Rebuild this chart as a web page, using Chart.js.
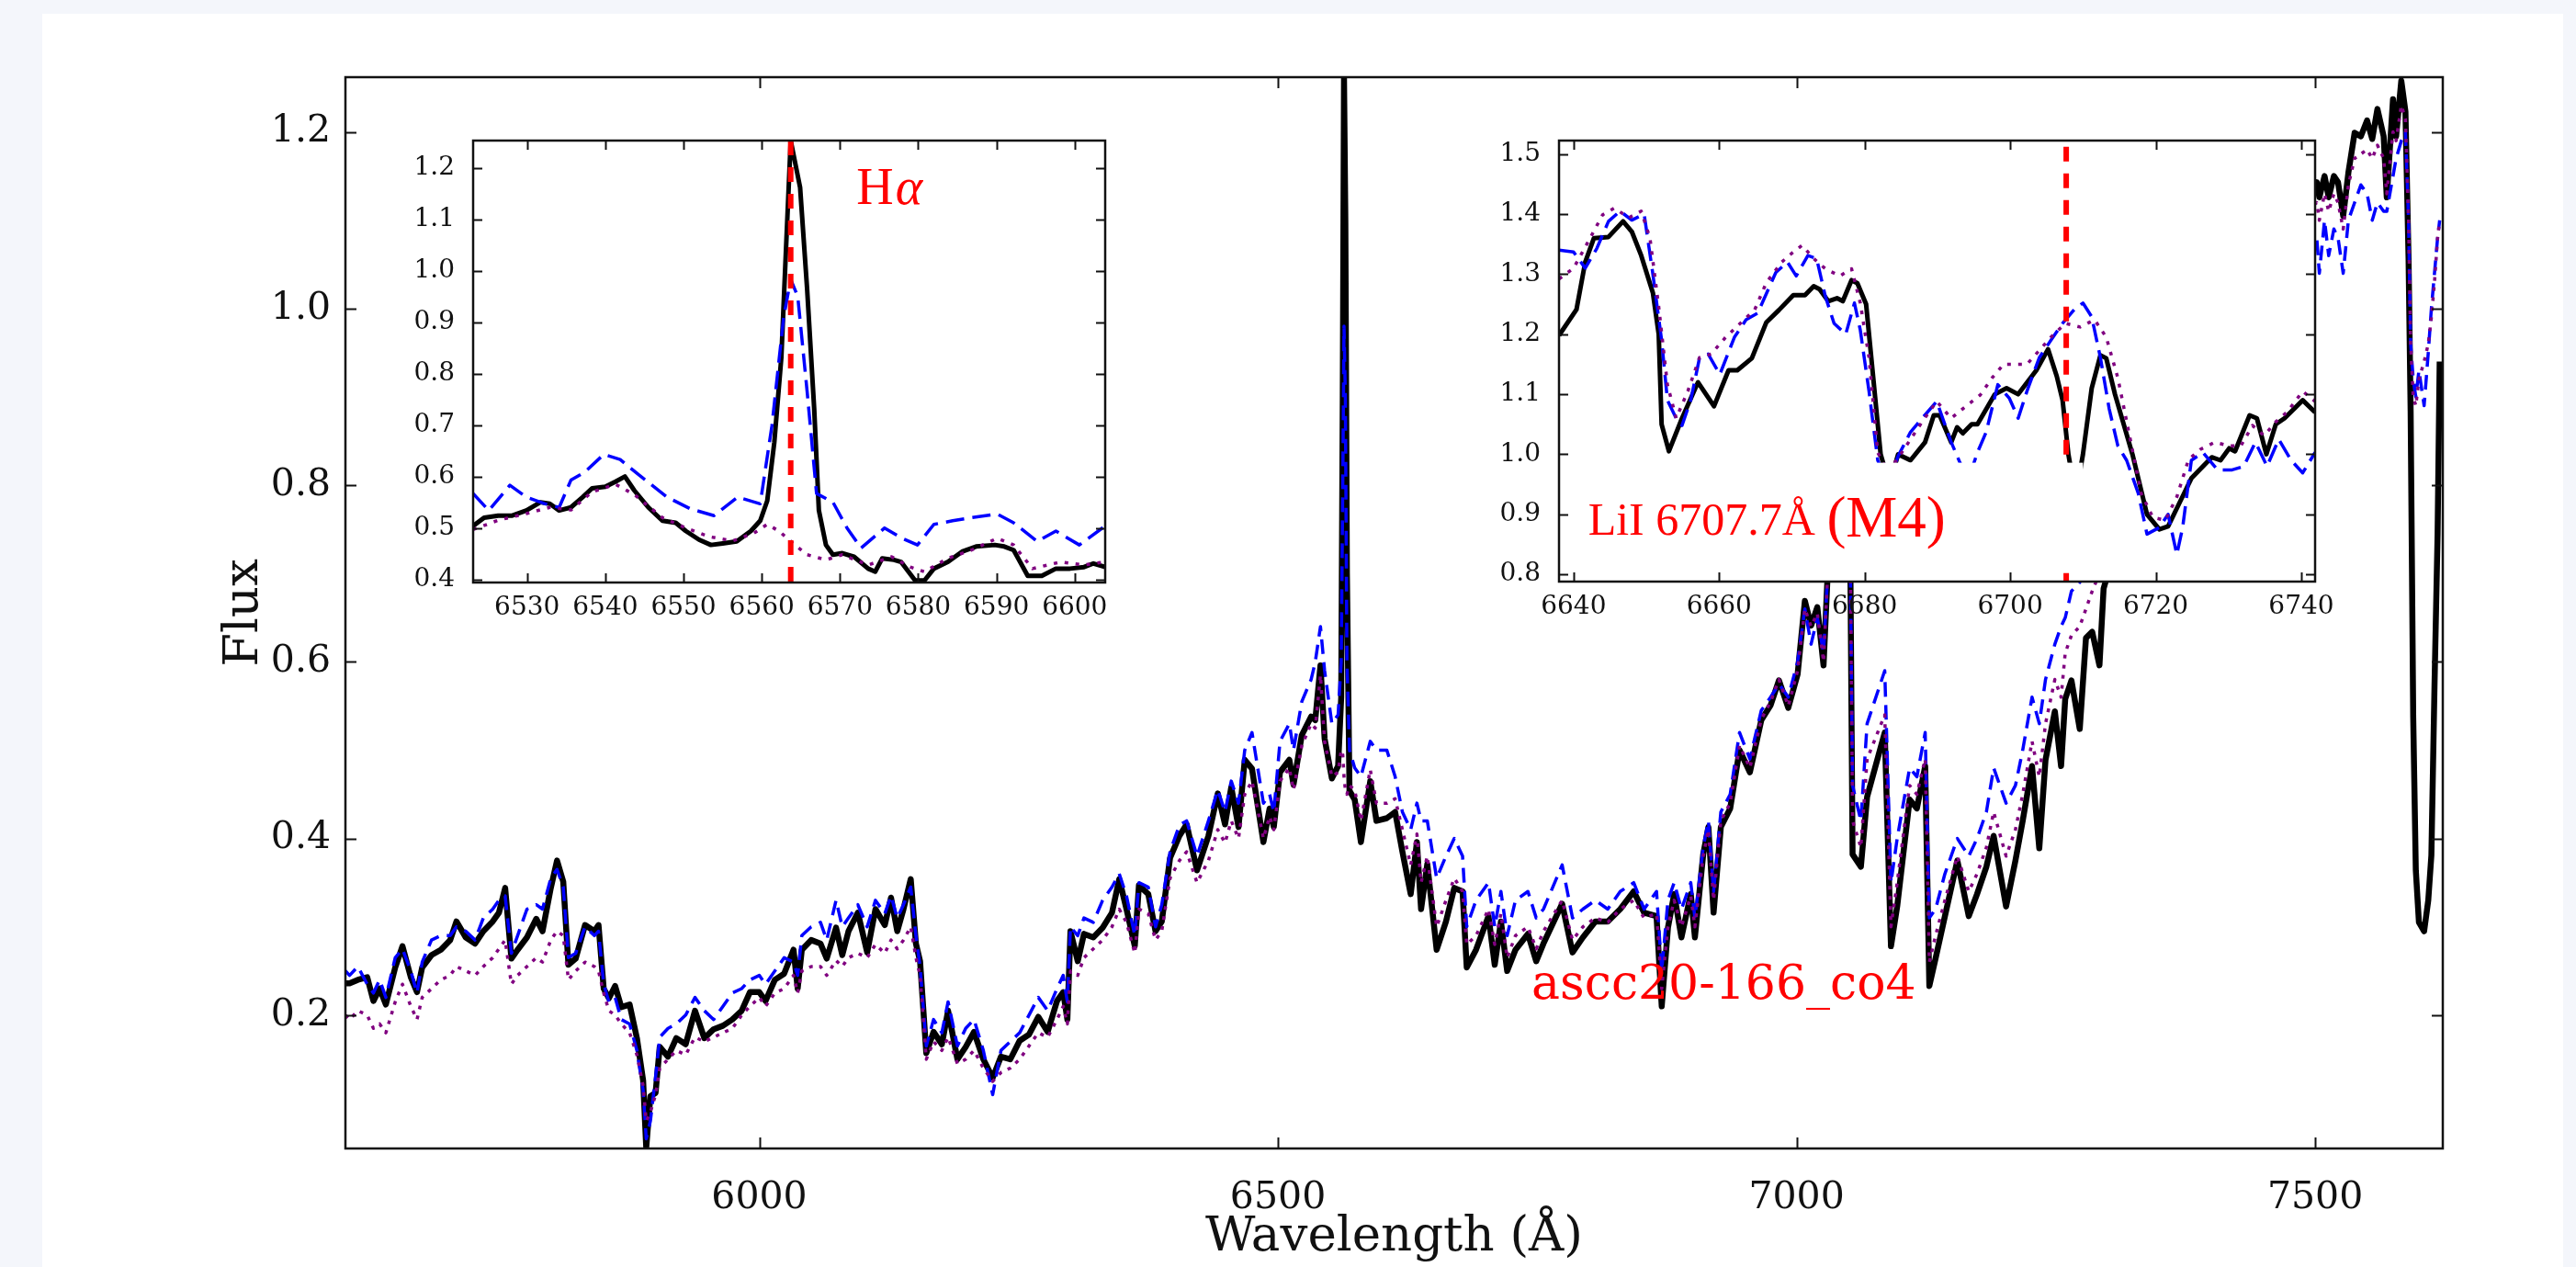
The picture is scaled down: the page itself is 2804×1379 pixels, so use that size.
<!DOCTYPE html>
<html>
<head>
<meta charset="utf-8">
<script src="https://cdn.jsdelivr.net/npm/chart.js@4.4.1/dist/chart.umd.min.js"></script>
<style>
  html, body { margin: 0; padding: 0; width: 2804px; height: 1379px; overflow: hidden; background: #f4f6fb; }
  #card { position: absolute; left: 46px; top: 15px; width: 2744px; height: 1400px; background: #fff; }
  canvas { position: absolute; }
  #main { left: 0; top: 0; }
  #ha { left: 420px; top: 100px; }
  #li { left: 1600px; top: 100px; }
</style>
</head>
<body>
<div id="card"></div>
<canvas id="main" width="2804" height="1379"></canvas>
<canvas id="ha" width="800" height="600"></canvas>
<canvas id="li" width="960" height="600"></canvas>
<script>
// ---- main spectrum (wavelength in Angstrom, normalised flux) ----
const mainWave = [
  5601, 5605, 5613, 5622, 5628, 5634, 5640, 5649, 5656, 5664, 5670, 5675, 5684, 5693, 5702, 5708,
  5717, 5726, 5734, 5743, 5749, 5755, 5761, 5767, 5776, 5785, 5791, 5799, 5805, 5811, 5816, 5823,
  5832, 5841, 5845, 5850, 5855, 5861, 5867, 5875, 5882, 5888, 5891, 5895, 5900, 5904, 5912, 5920,
  5929, 5938, 5947, 5956, 5965, 5974, 5983, 5991, 6000, 6006, 6015, 6024, 6033, 6037, 6041, 6050,
  6059, 6065, 6074, 6080, 6086, 6095, 6104, 6112, 6121, 6127, 6133, 6139, 6146, 6151, 6155, 6161,
  6168, 6176, 6182, 6191, 6199, 6207, 6216, 6225, 6233, 6242, 6251, 6260, 6269, 6278, 6287, 6293,
  6297, 6300, 6307, 6313, 6322, 6331, 6340, 6347, 6354, 6362, 6366, 6375, 6382, 6388, 6396, 6405,
  6412, 6422, 6433, 6442, 6449, 6455, 6462, 6468, 6475, 6486, 6492, 6496, 6502, 6511, 6515, 6523,
  6532, 6536, 6541, 6545, 6552, 6558, 6561, 6562.5, 6563.7, 6565, 6566.5, 6569, 6574, 6580, 6589, 6595,
  6605, 6613, 6620, 6628, 6634, 6638, 6644, 6653, 6662, 6670, 6678, 6682, 6691, 6703, 6709, 6715,
  6721, 6729, 6741, 6749, 6756, 6774, 6784, 6794, 6806, 6818, 6830, 6843, 6853, 6865, 6870, 6876,
  6882, 6889, 6898, 6902, 6910, 6915, 6920, 6927, 6936, 6945, 6955, 6966, 6975, 6983, 6992, 7001,
  7008, 7014, 7020, 7026, 7030, 7036, 7042, 7048, 7052, 7054, 7062, 7068, 7085, 7091, 7097, 7109,
  7116, 7124, 7128, 7134, 7143, 7155, 7166, 7174, 7183, 7190, 7202, 7211, 7218, 7227, 7234, 7240,
  7249, 7255, 7259, 7265, 7273, 7279, 7285, 7292, 7296, 7310, 7330, 7350, 7370, 7390, 7410, 7430,
  7450, 7470, 7490, 7501.5, 7504, 7509, 7513, 7518, 7522, 7527, 7532, 7538, 7544, 7550, 7555, 7560,
  7566, 7569, 7575, 7578, 7583, 7587, 7590, 7592, 7594.5, 7597, 7600, 7605, 7609, 7612, 7615, 7618,
  7620
];
const mainObserved = [
  0.236, 0.236, 0.240, 0.243, 0.216, 0.230, 0.212, 0.254, 0.278, 0.243, 0.226, 0.254, 0.268, 0.274, 0.285, 0.306,
  0.288, 0.281, 0.295, 0.306, 0.316, 0.344, 0.264, 0.274, 0.288, 0.309, 0.295, 0.344, 0.375, 0.351, 0.257, 0.264,
  0.302, 0.295, 0.302, 0.230, 0.219, 0.233, 0.209, 0.212, 0.174, 0.126, 0.050, 0.108, 0.112, 0.164, 0.153, 0.174,
  0.167, 0.205, 0.174, 0.184, 0.188, 0.195, 0.205, 0.226, 0.226, 0.216, 0.240, 0.247, 0.274, 0.230, 0.274, 0.285,
  0.281, 0.264, 0.299, 0.268, 0.295, 0.316, 0.271, 0.320, 0.302, 0.333, 0.295, 0.320, 0.354, 0.281, 0.261, 0.157,
  0.181, 0.167, 0.205, 0.150, 0.164, 0.181, 0.150, 0.129, 0.153, 0.150, 0.171, 0.178, 0.198, 0.181, 0.216, 0.226,
  0.195, 0.295, 0.261, 0.292, 0.288, 0.299, 0.316, 0.354, 0.320, 0.278, 0.347, 0.337, 0.295, 0.306, 0.378, 0.403,
  0.416, 0.364, 0.403, 0.451, 0.416, 0.458, 0.413, 0.489, 0.479, 0.396, 0.434, 0.413, 0.475, 0.489, 0.461, 0.517,
  0.538, 0.534, 0.596, 0.513, 0.468, 0.482, 0.560, 0.900, 1.262, 1.100, 0.700, 0.454, 0.444, 0.396, 0.465, 0.420,
  0.423, 0.430, 0.385, 0.337, 0.396, 0.320, 0.371, 0.274, 0.306, 0.344, 0.340, 0.254, 0.274, 0.312, 0.257, 0.306,
  0.250, 0.274, 0.292, 0.261, 0.281, 0.326, 0.271, 0.288, 0.306, 0.306, 0.320, 0.340, 0.316, 0.312, 0.210, 0.299,
  0.337, 0.288, 0.337, 0.288, 0.382, 0.413, 0.316, 0.413, 0.434, 0.500, 0.475, 0.534, 0.551, 0.579, 0.548, 0.586,
  0.669, 0.641, 0.662, 0.596, 0.700, 0.760, 0.790, 0.740, 0.690, 0.382, 0.368, 0.447, 0.520, 0.278, 0.323, 0.444,
  0.434, 0.482, 0.233, 0.264, 0.312, 0.375, 0.312, 0.337, 0.368, 0.403, 0.323, 0.375, 0.420, 0.482, 0.389, 0.489,
  0.544, 0.482, 0.558, 0.579, 0.524, 0.627, 0.634, 0.596, 0.683, 0.740, 0.800, 0.860, 0.900, 0.950, 0.990, 1.030,
  1.060, 1.100, 1.120, 1.143, 1.126, 1.150, 1.126, 1.150, 1.143, 1.105, 1.154, 1.199, 1.195, 1.213, 1.192, 1.226,
  1.195, 1.126, 1.237, 1.195, 1.258, 1.223, 1.057, 0.884, 0.537, 0.364, 0.305, 0.295, 0.330, 0.381, 0.572, 0.745,
  0.940
];
const mainTemplateBlue = [
  0.250, 0.245, 0.255, 0.235, 0.225, 0.240, 0.220, 0.265, 0.275, 0.250, 0.225, 0.260, 0.285, 0.290, 0.290, 0.300,
  0.295, 0.285, 0.310, 0.320, 0.330, 0.335, 0.270, 0.290, 0.320, 0.325, 0.320, 0.355, 0.365, 0.345, 0.265, 0.270,
  0.300, 0.290, 0.295, 0.235, 0.215, 0.220, 0.195, 0.190, 0.160, 0.115, 0.060, 0.080, 0.130, 0.175, 0.185, 0.190,
  0.200, 0.220, 0.205, 0.195, 0.210, 0.225, 0.230, 0.240, 0.245, 0.235, 0.250, 0.265, 0.260, 0.245, 0.290, 0.300,
  0.305, 0.285, 0.330, 0.300, 0.310, 0.325, 0.300, 0.330, 0.315, 0.335, 0.310, 0.325, 0.345, 0.290, 0.255, 0.165,
  0.195, 0.180, 0.215, 0.165, 0.185, 0.195, 0.160, 0.110, 0.160, 0.170, 0.180, 0.200, 0.220, 0.205, 0.230, 0.245,
  0.215, 0.300, 0.290, 0.310, 0.305, 0.330, 0.345, 0.360, 0.335, 0.290, 0.350, 0.345, 0.300, 0.325, 0.385, 0.415,
  0.420, 0.380, 0.420, 0.455, 0.430, 0.465, 0.440, 0.500, 0.520, 0.440, 0.450, 0.430, 0.510, 0.530, 0.500, 0.555,
  0.580, 0.600, 0.640, 0.590, 0.530, 0.540, 0.600, 0.800, 0.980, 0.900, 0.600, 0.500, 0.480, 0.470, 0.510, 0.500,
  0.500, 0.470, 0.430, 0.410, 0.440, 0.420, 0.420, 0.355, 0.380, 0.400, 0.380, 0.300, 0.330, 0.350, 0.300, 0.340,
  0.290, 0.330, 0.340, 0.310, 0.320, 0.370, 0.310, 0.320, 0.330, 0.320, 0.340, 0.350, 0.320, 0.340, 0.250, 0.330,
  0.350, 0.320, 0.350, 0.310, 0.390, 0.420, 0.340, 0.430, 0.450, 0.520, 0.490, 0.545, 0.560, 0.575, 0.560, 0.600,
  0.660, 0.620, 0.650, 0.610, 0.700, 0.770, 0.800, 0.750, 0.690, 0.460, 0.420, 0.530, 0.590, 0.350, 0.400, 0.480,
  0.470, 0.520, 0.310, 0.320, 0.360, 0.400, 0.380, 0.400, 0.430, 0.480, 0.440, 0.460, 0.500, 0.560, 0.530, 0.580,
  0.620, 0.640, 0.650, 0.680, 0.690, 0.700, 0.710, 0.720, 0.740, 0.790, 0.850, 0.900, 0.940, 0.980, 1.010, 1.040,
  1.060, 1.080, 1.100, 1.080, 1.040, 1.100, 1.060, 1.090, 1.080, 1.040, 1.100, 1.120, 1.140, 1.130, 1.100, 1.120,
  1.110, 1.110, 1.150, 1.170, 1.190, 1.200, 1.100, 0.960, 0.920, 0.900, 0.930, 0.890, 0.950, 1.000, 1.040, 1.080,
  1.100
];
const mainTemplatePurple = [
  0.200, 0.195, 0.205, 0.200, 0.185, 0.190, 0.180, 0.215, 0.235, 0.210, 0.195, 0.220, 0.230, 0.240, 0.245, 0.255,
  0.250, 0.245, 0.255, 0.265, 0.275, 0.285, 0.235, 0.245, 0.255, 0.265, 0.260, 0.285, 0.295, 0.290, 0.240, 0.250,
  0.260, 0.255, 0.250, 0.225, 0.205, 0.200, 0.190, 0.180, 0.155, 0.120, 0.080, 0.090, 0.110, 0.140, 0.150, 0.160,
  0.155, 0.175, 0.170, 0.175, 0.180, 0.185, 0.200, 0.210, 0.220, 0.210, 0.225, 0.230, 0.245, 0.225, 0.250, 0.255,
  0.255, 0.245, 0.262, 0.255, 0.265, 0.270, 0.265, 0.280, 0.270, 0.285, 0.275, 0.285, 0.300, 0.265, 0.245, 0.150,
  0.170, 0.160, 0.175, 0.145, 0.150, 0.160, 0.140, 0.125, 0.135, 0.140, 0.150, 0.165, 0.180, 0.175, 0.195, 0.210,
  0.190, 0.250, 0.245, 0.265, 0.275, 0.285, 0.300, 0.320, 0.305, 0.270, 0.320, 0.315, 0.285, 0.295, 0.355, 0.375,
  0.385, 0.350, 0.375, 0.410, 0.395, 0.420, 0.400, 0.450, 0.465, 0.400, 0.425, 0.410, 0.465, 0.480, 0.455, 0.505,
  0.530, 0.525, 0.585, 0.510, 0.470, 0.475, 0.500, 0.495, 0.470, 0.455, 0.450, 0.460, 0.455, 0.420, 0.478, 0.440,
  0.440, 0.445, 0.410, 0.370, 0.405, 0.350, 0.380, 0.300, 0.330, 0.355, 0.340, 0.280, 0.290, 0.320, 0.280, 0.315,
  0.265, 0.290, 0.300, 0.275, 0.295, 0.330, 0.285, 0.300, 0.310, 0.305, 0.320, 0.330, 0.310, 0.315, 0.230, 0.300,
  0.330, 0.300, 0.335, 0.300, 0.380, 0.410, 0.330, 0.420, 0.440, 0.505, 0.480, 0.535, 0.555, 0.580, 0.550, 0.590,
  0.660, 0.640, 0.655, 0.600, 0.700, 0.760, 0.790, 0.740, 0.690, 0.420, 0.390, 0.490, 0.540, 0.300, 0.350, 0.460,
  0.450, 0.490, 0.260, 0.290, 0.330, 0.380, 0.340, 0.360, 0.390, 0.430, 0.380, 0.410, 0.450, 0.510, 0.470, 0.530,
  0.580, 0.560, 0.610, 0.630, 0.640, 0.660, 0.680, 0.700, 0.720, 0.770, 0.830, 0.880, 0.920, 0.960, 1.000, 1.030,
  1.060, 1.090, 1.110, 1.120, 1.100, 1.130, 1.110, 1.130, 1.120, 1.090, 1.140, 1.170, 1.175, 1.180, 1.170, 1.185,
  1.170, 1.130, 1.200, 1.190, 1.230, 1.215, 1.100, 0.960, 0.900, 0.890, 0.920, 0.940, 0.960, 0.990, 1.030, 1.080,
  1.100
];
const mainXTicks = [6000, 6500, 7000, 7500];
const mainYTicks = [0.2, 0.4, 0.6, 0.8, 1.0, 1.2];

// ---- H-alpha inset ----
const haObsWave = [6523.1, 6524.5, 6526.3, 6528.1, 6529.9, 6531.7, 6532.9, 6534.1, 6535.6, 6537.1, 6538.3, 6540.0,
  6541.3, 6542.5, 6543.7, 6545.5, 6547.3, 6549.0, 6550.3, 6552.0, 6553.5, 6555.0, 6556.8, 6558.6, 6559.8, 6560.7,
  6561.6, 6562.5, 6563.1, 6563.7, 6564.9, 6565.8, 6566.7, 6567.3, 6568.2, 6569.1, 6570.3, 6571.8, 6573.6, 6574.5,
  6575.4, 6576.9, 6577.8, 6579.6, 6580.8, 6582.0, 6583.8, 6585.6, 6587.4, 6589.8, 6591.0, 6592.2, 6594.0, 6595.8,
  6597.6, 6599.4, 6601.2, 6602.4, 6603.9];
const haObsFlux = [0.504, 0.520, 0.524, 0.524, 0.534, 0.550, 0.547, 0.534, 0.540, 0.560, 0.577, 0.580,
  0.590, 0.600, 0.573, 0.540, 0.514, 0.510, 0.494, 0.477, 0.467, 0.470, 0.474, 0.494, 0.514, 0.553,
  0.666, 0.831, 1.043, 1.253, 1.162, 0.964, 0.732, 0.534, 0.467, 0.448, 0.451, 0.444, 0.421, 0.415,
  0.441, 0.438, 0.434, 0.398, 0.398, 0.421, 0.434, 0.454, 0.464, 0.467, 0.464, 0.457, 0.407, 0.407,
  0.421, 0.421, 0.424, 0.431, 0.424];
const haBlueWave = [6523.1, 6525.1, 6527.8, 6529.9, 6532.3, 6534.1, 6535.6, 6537.4, 6539.8, 6541.9, 6544.3, 6547.9,
  6550.9, 6553.9, 6556.9, 6559.8, 6561.3, 6562.8, 6563.7, 6564.6, 6565.8, 6567.0, 6569.1, 6570.9, 6572.7, 6575.7,
  6577.8, 6579.9, 6582.0, 6584.4, 6586.8, 6590.1, 6592.2, 6595.2, 6597.6, 6600.6, 6603.9];
const haBlueFlux = [0.567, 0.534, 0.583, 0.560, 0.547, 0.540, 0.593, 0.609, 0.643, 0.633, 0.603, 0.560,
  0.537, 0.524, 0.560, 0.547, 0.699, 0.910, 0.983, 0.950, 0.765, 0.567, 0.550, 0.500, 0.461, 0.500,
  0.481, 0.467, 0.507, 0.514, 0.520, 0.527, 0.510, 0.474, 0.494, 0.467, 0.504];
const haPurpleWave = [6523.1, 6526.3, 6529.9, 6532.9, 6535.6, 6538.3, 6541.3, 6543.7, 6547.3, 6550.3, 6553.3, 6556.3,
  6559.0, 6560.7, 6562.2, 6564.0, 6565.8, 6568.2, 6570.3, 6573.6, 6576.6, 6579.0, 6580.8, 6583.8, 6586.8, 6590.1,
  6592.2, 6594.6, 6598.2, 6601.2, 6603.9];
const haPurpleFlux = [0.497, 0.515, 0.528, 0.540, 0.535, 0.570, 0.585, 0.565, 0.520, 0.500, 0.483, 0.475,
  0.490, 0.507, 0.494, 0.470, 0.448, 0.438, 0.448, 0.428, 0.444, 0.424, 0.415, 0.441, 0.457, 0.480,
  0.467, 0.421, 0.434, 0.428, 0.434];
const haXTicks = [6530, 6540, 6550, 6560, 6570, 6580, 6590, 6600];
const haYTicks = [0.4, 0.5, 0.6, 0.7, 0.8, 0.9, 1.0, 1.1, 1.2];
const haLineWave = 6563.7;

// ---- Li I inset ----
const liObsWave = [6638.0, 6640.4, 6641.6, 6642.8, 6644.8, 6646.8, 6648.0, 6649.3, 6650.9, 6651.7, 6652.1, 6653.1,
  6654.9, 6657.1, 6659.3, 6661.3, 6662.5, 6664.5, 6666.5, 6668.2, 6670.2, 6671.8, 6673.0, 6673.8, 6675.0, 6676.2,
  6677.0, 6678.2, 6679.0, 6680.2, 6681.4, 6682.2, 6683.4, 6684.6, 6686.3, 6688.3, 6689.5, 6690.3, 6691.9, 6692.7,
  6693.5, 6694.7, 6695.5, 6697.9, 6699.5, 6701.1, 6703.6, 6705.2, 6706.4, 6707.2, 6708.0, 6709.0, 6710.0, 6711.2,
  6712.4, 6713.2, 6714.4, 6716.8, 6718.8, 6720.5, 6721.7, 6723.3, 6724.9, 6727.7, 6728.9, 6730.1, 6730.9, 6732.9,
  6733.9, 6735.2, 6736.5, 6737.7, 6740.2, 6741.9];
const liObsFlux = [1.198, 1.241, 1.320, 1.360, 1.362, 1.388, 1.371, 1.331, 1.269, 1.200, 1.050, 1.005,
  1.060, 1.120, 1.080, 1.140, 1.140, 1.160, 1.220, 1.240, 1.265, 1.265, 1.280, 1.275, 1.255, 1.260,
  1.255, 1.290, 1.285, 1.250, 1.100, 1.000, 0.950, 1.000, 0.990, 1.020, 1.065, 1.065, 1.020, 1.045,
  1.035, 1.050, 1.050, 1.100, 1.110, 1.100, 1.140, 1.175, 1.130, 1.090, 1.000, 0.930, 1.000, 1.110,
  1.165, 1.160, 1.100, 1.000, 0.900, 0.875, 0.880, 0.920, 0.960, 0.995, 0.990, 1.010, 1.005, 1.065,
  1.060, 1.000, 1.050, 1.060, 1.090, 1.070];
const liBlueWave = [6638.0, 6640.0, 6641.6, 6643.2, 6644.8, 6646.4, 6648.0, 6649.7, 6650.9, 6652.1, 6652.9, 6654.1,
  6654.9, 6656.1, 6657.3, 6658.5, 6660.1, 6662.1, 6663.7, 6665.3, 6667.8, 6669.4, 6670.6, 6672.2, 6673.4, 6674.6,
  6675.8, 6677.4, 6678.6, 6679.4, 6680.6, 6681.8, 6683.2, 6684.6, 6686.3, 6687.9, 6689.9, 6691.9, 6693.1, 6694.3,
  6695.5, 6696.7, 6698.3, 6699.9, 6701.1, 6702.3, 6704.0, 6705.6, 6707.2, 6708.8, 6710.0, 6711.2, 6712.4, 6713.6,
  6714.8, 6716.0, 6717.6, 6718.8, 6720.5, 6721.7, 6722.9, 6723.7, 6724.9, 6726.5, 6728.5, 6730.5, 6732.1, 6733.7,
  6735.3, 6736.9, 6738.6, 6740.2, 6741.9];
const liBlueFlux = [1.340, 1.337, 1.310, 1.343, 1.388, 1.405, 1.390, 1.400, 1.300, 1.190, 1.090, 1.060,
  1.048, 1.090, 1.160, 1.167, 1.133, 1.195, 1.224, 1.235, 1.303, 1.320, 1.297, 1.331, 1.326, 1.263,
  1.218, 1.200, 1.252, 1.207, 1.105, 0.990, 0.950, 0.997, 1.037, 1.060, 1.088, 1.020, 0.986, 0.960,
  1.003, 1.037, 1.116, 1.093, 1.060, 1.105, 1.161, 1.190, 1.218, 1.241, 1.252, 1.229, 1.161, 1.076,
  1.014, 0.990, 0.935, 0.867, 0.878, 0.900, 0.833, 0.878, 0.990, 1.003, 0.974, 0.974, 0.980, 1.020,
  0.980, 1.025, 0.990, 0.969, 1.003];
const liPurpleWave = [6638.0, 6640.0, 6642.0, 6644.0, 6645.6, 6647.6, 6649.3, 6650.5, 6651.7, 6652.9, 6654.1, 6655.7,
  6657.3, 6658.9, 6660.9, 6662.9, 6664.9, 6666.5, 6668.6, 6670.2, 6671.4, 6673.0, 6674.6, 6676.6, 6678.2, 6679.4,
  6680.6, 6681.8, 6683.2, 6685.1, 6687.9, 6689.9, 6691.9, 6693.5, 6695.9, 6697.5, 6699.1, 6700.7, 6702.3, 6704.0,
  6705.6, 6707.6, 6709.6, 6711.6, 6713.2, 6714.8, 6716.4, 6718.0, 6719.6, 6721.3, 6722.9, 6724.5, 6726.1, 6728.1,
  6730.1, 6731.7, 6733.3, 6734.9, 6736.5, 6738.1, 6740.2, 6741.9];
const liPurpleFlux = [1.292, 1.310, 1.354, 1.399, 1.410, 1.394, 1.405, 1.360, 1.246, 1.116, 1.060, 1.105,
  1.161, 1.167, 1.195, 1.218, 1.241, 1.286, 1.320, 1.337, 1.348, 1.326, 1.309, 1.297, 1.309, 1.252,
  1.161, 1.003, 0.970, 1.003, 1.054, 1.088, 1.060, 1.076, 1.099, 1.127, 1.150, 1.150, 1.150, 1.173,
  1.195, 1.218, 1.212, 1.224, 1.195, 1.127, 1.031, 0.935, 0.895, 0.890, 0.929, 0.991, 1.008, 1.020,
  1.014, 1.014, 1.048, 1.031, 1.054, 1.071, 1.105, 1.088];
const liXTicks = [6640, 6660, 6680, 6700, 6720, 6740];
const liYTicks = [0.8, 0.9, 1.0, 1.1, 1.2, 1.3, 1.4, 1.5];
const liLineWave = 6707.7;

const pts = (xs, ys) => xs.map((v, i) => ({ x: v, y: ys[i] }));
const SERIF = 'DejaVu Serif';

// box around the axes with inward ticks on all four sides (old matplotlib look)
function framePlugin(tickLen, fill) {
  return {
    id: 'frame',
    beforeDatasetsDraw(chart) {
      if (!fill) return;
      const a = chart.chartArea, ctx = chart.ctx;
      ctx.save();
      ctx.fillStyle = fill;
      ctx.fillRect(a.left, a.top, a.right - a.left, a.bottom - a.top);
      ctx.restore();
    },
    afterDraw(chart) {
      const { ctx, chartArea: a, scales: { x, y } } = chart;
      ctx.save();
      ctx.strokeStyle = '#111';
      ctx.lineWidth = 2;
      ctx.beginPath();
      x.ticks.forEach(t => {
        const px = Math.round(x.getPixelForValue(t.value)) + 0.5;
        ctx.moveTo(px, a.bottom); ctx.lineTo(px, a.bottom - tickLen);
        ctx.moveTo(px, a.top); ctx.lineTo(px, a.top + tickLen);
      });
      y.ticks.forEach(t => {
        const py = Math.round(y.getPixelForValue(t.value)) + 0.5;
        ctx.moveTo(a.left, py); ctx.lineTo(a.left + tickLen, py);
        ctx.moveTo(a.right, py); ctx.lineTo(a.right - tickLen, py);
      });
      ctx.stroke();
      ctx.lineWidth = 2.5;
      ctx.strokeRect(a.left, a.top, a.right - a.left, a.bottom - a.top);
      ctx.restore();
    }
  };
}

function textPlugin(draw) {
  return { id: 'notes', afterDatasetsDraw(chart) { const ctx = chart.ctx; ctx.save(); draw(chart, ctx); ctx.restore(); } };
}

function buildOptions(c) {
  return {
    responsive: false,
    animation: false,
    devicePixelRatio: 1,
    events: [],
    elements: { point: { radius: 0 }, line: { tension: 0, borderCapStyle: 'butt', borderJoinStyle: 'round', fill: false } },
    layout: { autoPadding: false, padding: c.padding },
    plugins: { legend: { display: false }, tooltip: { enabled: false } },
    scales: {
      x: {
        type: 'linear', min: c.xMin, max: c.xMax,
        afterBuildTicks: s => { s.ticks = c.xTicks.map(v => ({ value: v })); },
        afterFit: s => { s.height = c.xHeight; },
        grid: { display: false }, border: { display: false },
        ticks: { font: { family: SERIF, size: c.tickSize }, color: '#111', padding: c.xPad, maxRotation: 0, autoSkip: false, callback: v => String(v) },
        title: c.xTitle ? { display: true, text: c.xTitle, font: { family: SERIF, size: c.titleSize }, color: '#111', padding: { top: 4, bottom: 0 } } : { display: false }
      },
      y: {
        type: 'linear', min: c.yMin, max: c.yMax,
        afterBuildTicks: s => { s.ticks = c.yTicks.map(v => ({ value: v })); },
        afterFit: s => { s.width = c.yWidth; },
        grid: { display: false }, border: { display: false },
        ticks: { font: { family: SERIF, size: c.tickSize }, color: '#111', padding: c.yPad, autoSkip: false, callback: v => v.toFixed(1) },
        title: c.yTitle ? { display: true, text: c.yTitle, font: { family: SERIF, size: c.titleSize }, color: '#111', padding: { top: 4, bottom: 4 } } : { display: false }
      }
    }
  };
}

// ---------- main panel ----------
new Chart(document.getElementById('main'), {
  type: 'line',
  data: {
    datasets: [
      { data: pts(mainWave, mainObserved), borderColor: '#000000', borderWidth: 6.5, order: 3, clip: 0 },
      { data: pts(mainWave, mainTemplateBlue), borderColor: '#0000ff', borderWidth: 3.5, borderDash: [16, 9], order: 2, clip: 0 },
      { data: pts(mainWave, mainTemplatePurple), borderColor: '#800080', borderWidth: 3.5, borderDash: [4, 7], order: 1, clip: 0 }
    ]
  },
  options: buildOptions({
    padding: { left: 230, top: 84, right: 145, bottom: 0 },
    xMin: 5601, xMax: 7623, yMin: 0.049, yMax: 1.262,
    xTicks: mainXTicks, yTicks: mainYTicks,
    xHeight: 129, yWidth: 146, tickSize: 41, titleSize: 53, xPad: 22, yPad: 8,
    xTitle: 'Wavelength (Å)', yTitle: 'Flux'
  }),
  plugins: [framePlugin(12, null), textPlugin((chart, ctx) => {
    const { x, y } = chart.scales;
    ctx.fillStyle = '#ff0000';
    ctx.font = '52px "DejaVu Serif"';
    ctx.textBaseline = 'alphabetic';
    ctx.fillText('ascc20-166_co4', x.getPixelForValue(6744.5), y.getPixelForValue(0.219));
  })]
});

// ---------- H-alpha inset ----------
new Chart(document.getElementById('ha'), {
  type: 'line',
  data: {
    datasets: [
      { data: pts(haObsWave, haObsFlux), borderColor: '#000000', borderWidth: 5, order: 3, clip: 0 },
      { data: pts(haBlueWave, haBlueFlux), borderColor: '#0000ff', borderWidth: 3.5, borderDash: [20, 9], order: 2, clip: 0 },
      { data: pts(haPurpleWave, haPurpleFlux), borderColor: '#800080', borderWidth: 3.5, borderDash: [4, 8], order: 1, clip: 0 },
      { data: [{ x: haLineWave, y: 1.253 }, { x: haLineWave, y: 0.394 }], borderColor: '#ff0000', borderWidth: 6, borderDash: [16, 13], order: 0, clip: 0 }
    ]
  },
  options: buildOptions({
    padding: { left: 0, top: 53, right: 17, bottom: 0 },
    xMin: 6523.1, xMax: 6603.9, yMin: 0.394, yMax: 1.253,
    xTicks: haXTicks, yTicks: haYTicks,
    xHeight: 66, yWidth: 95, tickSize: 28, titleSize: 28, xPad: 3, yPad: 12
  }),
  plugins: [framePlugin(10, '#ffffff'), textPlugin((chart, ctx) => {
    const { x, y } = chart.scales;
    const px = x.getPixelForValue(6572.1), py = y.getPixelForValue(1.13);
    ctx.fillStyle = '#ff0000';
    ctx.textBaseline = 'alphabetic';
    ctx.font = '56px "Liberation Serif"';
    ctx.fillText('H', px, py);
    const w = ctx.measureText('H').width;
    ctx.font = 'italic 56px "Liberation Serif"';
    ctx.fillText('α', px + w + 2, py);
  })]
});

// ---------- Li I inset ----------
new Chart(document.getElementById('li'), {
  type: 'line',
  data: {
    datasets: [
      { data: pts(liObsWave, liObsFlux), borderColor: '#000000', borderWidth: 5, order: 3, clip: 0 },
      { data: pts(liBlueWave, liBlueFlux), borderColor: '#0000ff', borderWidth: 3.5, borderDash: [20, 9], order: 2, clip: 0 },
      { data: pts(liPurpleWave, liPurpleFlux), borderColor: '#800080', borderWidth: 3.5, borderDash: [4, 8], order: 1, clip: 0 },
      { data: [{ x: liLineWave, y: 1.512 }, { x: liLineWave, y: 0.788 }], borderColor: '#ff0000', borderWidth: 6, borderDash: [16, 13], order: 0, clip: 0 }
    ]
  },
  options: buildOptions({
    padding: { left: 0, top: 53, right: 40, bottom: 0 },
    xMin: 6638, xMax: 6741.9, yMin: 0.788, yMax: 1.5225,
    xTicks: liXTicks, yTicks: liYTicks,
    xHeight: 67, yWidth: 97, tickSize: 28, titleSize: 28, xPad: 3, yPad: 12
  }),
  plugins: [framePlugin(10, '#ffffff'), textPlugin((chart, ctx) => {
    const { x, y } = chart.scales;
    const a = chart.chartArea;
    // white label box (hides the lines behind the annotation)
    const bx1 = x.getPixelForValue(6710.0);
    const byTop = y.getPixelForValue(0.986), byBot = y.getPixelForValue(0.81);
    ctx.fillStyle = '#ffffff';
    ctx.fillRect(a.left + 1, byTop, bx1 - a.left - 1, byBot - byTop);
    const px = x.getPixelForValue(6642.0), py = y.getPixelForValue(0.866);
    ctx.fillStyle = '#ff0000';
    ctx.textBaseline = 'alphabetic';
    ctx.font = '50px "Liberation Serif"';
    const first = 'LiI 6707.7Å ';
    ctx.fillText(first, px, py);
    const w = ctx.measureText(first).width;
    ctx.font = '63px "Liberation Serif"';
    ctx.fillText('(M4)', px + w, py + 2);
  })]
});
</script>
</body>
</html>
